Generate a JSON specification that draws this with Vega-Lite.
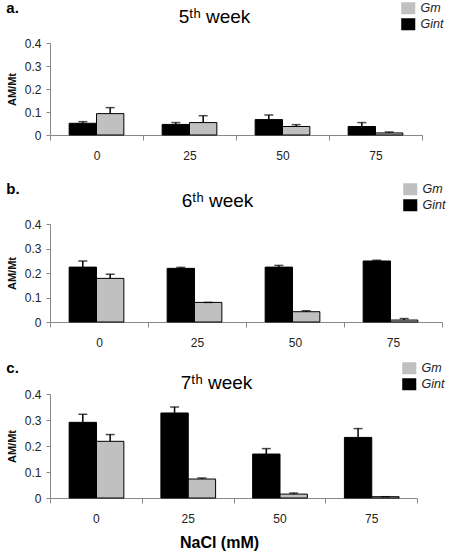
{
  "$schema": "https://vega.github.io/schema/vega-lite/v6.json",
  "padding": {"left": 6, "top": 1, "right": 0, "bottom": 1},
  "background": "white",
  "datasets": {
    "d": [
      {"panel": "a", "nacl": "0", "strain": "Gint", "value": 0.051, "upper": 0.058},
      {"panel": "a", "nacl": "0", "strain": "Gm", "value": 0.093, "upper": 0.119},
      {"panel": "a", "nacl": "25", "strain": "Gint", "value": 0.046, "upper": 0.054},
      {"panel": "a", "nacl": "25", "strain": "Gm", "value": 0.054, "upper": 0.084},
      {"panel": "a", "nacl": "50", "strain": "Gint", "value": 0.067, "upper": 0.087},
      {"panel": "a", "nacl": "50", "strain": "Gm", "value": 0.037, "upper": 0.045},
      {"panel": "a", "nacl": "75", "strain": "Gint", "value": 0.037, "upper": 0.054},
      {"panel": "a", "nacl": "75", "strain": "Gm", "value": 0.009, "upper": 0.013},
      {"panel": "b", "nacl": "0", "strain": "Gint", "value": 0.224, "upper": 0.249},
      {"panel": "b", "nacl": "0", "strain": "Gm", "value": 0.178, "upper": 0.195},
      {"panel": "b", "nacl": "25", "strain": "Gint", "value": 0.219, "upper": 0.223},
      {"panel": "b", "nacl": "25", "strain": "Gm", "value": 0.080, "upper": 0.080},
      {"panel": "b", "nacl": "50", "strain": "Gint", "value": 0.224, "upper": 0.231},
      {"panel": "b", "nacl": "50", "strain": "Gm", "value": 0.042, "upper": 0.046},
      {"panel": "b", "nacl": "75", "strain": "Gint", "value": 0.249, "upper": 0.252},
      {"panel": "b", "nacl": "75", "strain": "Gm", "value": 0.008, "upper": 0.014},
      {"panel": "c", "nacl": "0", "strain": "Gint", "value": 0.291, "upper": 0.322},
      {"panel": "c", "nacl": "0", "strain": "Gm", "value": 0.218, "upper": 0.244},
      {"panel": "c", "nacl": "25", "strain": "Gint", "value": 0.327, "upper": 0.350},
      {"panel": "c", "nacl": "25", "strain": "Gm", "value": 0.073, "upper": 0.077},
      {"panel": "c", "nacl": "50", "strain": "Gint", "value": 0.169, "upper": 0.190},
      {"panel": "c", "nacl": "50", "strain": "Gm", "value": 0.015, "upper": 0.019},
      {"panel": "c", "nacl": "75", "strain": "Gint", "value": 0.233, "upper": 0.267},
      {"panel": "c", "nacl": "75", "strain": "Gm", "value": 0.005, "upper": 0.005}
    ]
  },
  "data": {"name": "d"},
  "spacing": 21,
  "resolve": {"scale": {"color": "independent"}, "legend": {"color": "independent"}},
  "vconcat": [
    {
      "title": {"text": "a.", "anchor": "start", "fontSize": 15, "fontWeight": "bold", "font": "Liberation Sans", "dy": 14, "offset": 0},
      "width": 372,
      "height": 92,
      "transform": [{"filter": "datum.panel == 'a'"}],
      "resolve": {"axis": {"x": "independent"}},
      "layer": [
        {
          "mark": {"type": "bar", "stroke": "black", "strokeWidth": 1},
          "encoding": {
            "x": {"field": "nacl", "type": "ordinal", "sort": ["0", "25", "50", "75"], "scale": {"paddingInner": 0, "paddingOuter": 0}, "axis": {"title": null}},
            "xOffset": {"field": "strain", "type": "nominal", "sort": ["Gint", "Gm"], "scale": {"paddingInner": 0, "paddingOuter": 0.7}},
            "y": {"field": "value", "type": "quantitative", "title": "AM/Mt", "scale": {"domain": [0, 0.4]}},
            "color": {"field": "strain", "type": "nominal", "scale": {"domain": ["Gm", "Gint"], "range": ["#c0c0c0", "#000000"]},
              "legend": {"orient": "none", "legendX": 352, "legendY": -41, "title": null}}
          }
        },
        {
          "mark": {"type": "rule", "color": "black", "strokeWidth": 1.5},
          "encoding": {
            "x": {"field": "nacl", "type": "ordinal", "sort": ["0", "25", "50", "75"],
              "axis": {"orient": "top", "labels": false, "ticks": false, "domain": false, "title": "5ᵗʰ week", "titleFontSize": 19, "titleFontWeight": "normal", "titleX": 164, "titleY": -21, "titleBaseline": "alphabetic", "titleAlign": "center", "titleColor": "#000"}},
            "xOffset": {"field": "strain", "type": "nominal", "sort": ["Gint", "Gm"]},
            "y": {"field": "value", "type": "quantitative", "title": "AM/Mt", "scale": {"domain": [0, 0.4]}},
            "y2": {"field": "upper"}
          }
        },
        {
          "mark": {"type": "tick", "color": "black", "size": 9, "thickness": 1.5},
          "encoding": {
            "x": {"field": "nacl", "type": "ordinal", "sort": ["0", "25", "50", "75"], "axis": null},
            "xOffset": {"field": "strain", "type": "nominal", "sort": ["Gint", "Gm"]},
            "y": {"field": "upper", "type": "quantitative", "title": "AM/Mt", "scale": {"domain": [0, 0.4]}}
          }
        }
      ]
    },
    {
      "spacing": 13,
      "resolve": {"scale": {"color": "independent"}, "legend": {"color": "independent"}},
      "vconcat": [
        {
          "title": {"text": "b.", "anchor": "start", "fontSize": 15, "fontWeight": "bold", "font": "Liberation Sans", "dy": 14, "offset": 0},
          "width": 392,
          "height": 98,
          "transform": [{"filter": "datum.panel == 'b'"}],
          "resolve": {"axis": {"x": "independent"}},
          "layer": [
            {
              "mark": {"type": "bar", "stroke": "black", "strokeWidth": 1},
              "encoding": {
                "x": {"field": "nacl", "type": "ordinal", "sort": ["0", "25", "50", "75"], "scale": {"paddingInner": 0, "paddingOuter": 0}, "axis": {"title": null}},
                "xOffset": {"field": "strain", "type": "nominal", "sort": ["Gint", "Gm"], "scale": {"paddingInner": 0, "paddingOuter": 0.7}},
                "y": {"field": "value", "type": "quantitative", "title": "AM/Mt", "scale": {"domain": [0, 0.4]}},
                "color": {"field": "strain", "type": "nominal", "scale": {"domain": ["Gm", "Gint"], "range": ["#c0c0c0", "#000000"]},
                  "legend": {"orient": "none", "legendX": 354, "legendY": -41, "title": null}}
              }
            },
            {
              "mark": {"type": "rule", "color": "black", "strokeWidth": 1.5},
              "encoding": {
                "x": {"field": "nacl", "type": "ordinal", "sort": ["0", "25", "50", "75"],
                  "axis": {"orient": "top", "labels": false, "ticks": false, "domain": false, "title": "6ᵗʰ week", "titleFontSize": 19, "titleFontWeight": "normal", "titleX": 167, "titleY": -18, "titleBaseline": "alphabetic", "titleAlign": "center", "titleColor": "#000"}},
                "xOffset": {"field": "strain", "type": "nominal", "sort": ["Gint", "Gm"]},
                "y": {"field": "value", "type": "quantitative", "title": "AM/Mt", "scale": {"domain": [0, 0.4]}},
                "y2": {"field": "upper"}
              }
            },
            {
              "mark": {"type": "tick", "color": "black", "size": 9, "thickness": 1.5},
              "encoding": {
                "x": {"field": "nacl", "type": "ordinal", "sort": ["0", "25", "50", "75"], "axis": null},
                "xOffset": {"field": "strain", "type": "nominal", "sort": ["Gint", "Gm"]},
                "y": {"field": "upper", "type": "quantitative", "title": "AM/Mt", "scale": {"domain": [0, 0.4]}}
              }
            }
          ]
        },
        {
          "title": {"text": "c.", "anchor": "start", "fontSize": 15, "fontWeight": "bold", "font": "Liberation Sans", "dy": 14, "offset": 0},
          "width": 367,
          "height": 104,
          "transform": [{"filter": "datum.panel == 'c'"}],
          "resolve": {"axis": {"x": "independent"}},
          "layer": [
            {
              "mark": {"type": "bar", "stroke": "black", "strokeWidth": 1},
              "encoding": {
                "x": {"field": "nacl", "type": "ordinal", "sort": ["0", "25", "50", "75"], "scale": {"paddingInner": 0, "paddingOuter": 0},
                  "axis": {"title": "NaCl (mM)", "titleFontSize": 16, "titleFontWeight": "bold", "titlePadding": 10, "titleColor": "#000", "titleX": 169, "titleAlign": "center"}},
                "xOffset": {"field": "strain", "type": "nominal", "sort": ["Gint", "Gm"], "scale": {"paddingInner": 0, "paddingOuter": 0.7}},
                "y": {"field": "value", "type": "quantitative", "title": "AM/Mt", "scale": {"domain": [0, 0.4]}},
                "color": {"field": "strain", "type": "nominal", "scale": {"domain": ["Gm", "Gint"], "range": ["#c0c0c0", "#000000"]},
                  "legend": {"orient": "none", "legendX": 353, "legendY": -32, "title": null}}
              }
            },
            {
              "mark": {"type": "rule", "color": "black", "strokeWidth": 1.5},
              "encoding": {
                "x": {"field": "nacl", "type": "ordinal", "sort": ["0", "25", "50", "75"],
                  "axis": {"orient": "top", "labels": false, "ticks": false, "domain": false, "title": "7ᵗʰ week", "titleFontSize": 19, "titleFontWeight": "normal", "titleX": 166, "titleY": -6, "titleBaseline": "alphabetic", "titleAlign": "center", "titleColor": "#000"}},
                "xOffset": {"field": "strain", "type": "nominal", "sort": ["Gint", "Gm"]},
                "y": {"field": "value", "type": "quantitative", "title": "AM/Mt", "scale": {"domain": [0, 0.4]}},
                "y2": {"field": "upper"}
              }
            },
            {
              "mark": {"type": "tick", "color": "black", "size": 9, "thickness": 1.5},
              "encoding": {
                "x": {"field": "nacl", "type": "ordinal", "sort": ["0", "25", "50", "75"], "axis": null},
                "xOffset": {"field": "strain", "type": "nominal", "sort": ["Gint", "Gm"]},
                "y": {"field": "upper", "type": "quantitative", "title": "AM/Mt", "scale": {"domain": [0, 0.4]}}
              }
            }
          ]
        }
      ]
    }
  ],
  "config": {
    "font": "Liberation Sans",
    "view": {"stroke": null},
    "title": {"color": "#000"},
    "axis": {"labelFont": "Liberation Sans", "titleFont": "Liberation Sans", "labelFontSize": 12, "labelColor": "#222", "domainColor": "#888", "tickColor": "#888", "grid": false},
    "axisX": {"tickBand": "extent", "tickSize": 5, "labelPadding": 10, "labelAngle": 0},
    "axisY": {"values": [0, 0.1, 0.2, 0.3, 0.4], "format": "~g", "tickSize": 4, "labelPadding": 5, "titleFontSize": 11, "titleFontWeight": "bold", "titlePadding": 7, "titleColor": "#111"},
    "legend": {"labelFont": "Liberation Sans", "labelFontStyle": "italic", "labelFontSize": 12.5, "labelColor": "#222", "symbolType": "M-1.17,-1H1.17V1H-1.17Z", "symbolSize": 144, "symbolStrokeWidth": 0, "rowPadding": 3, "labelOffset": 6}
  }
}
